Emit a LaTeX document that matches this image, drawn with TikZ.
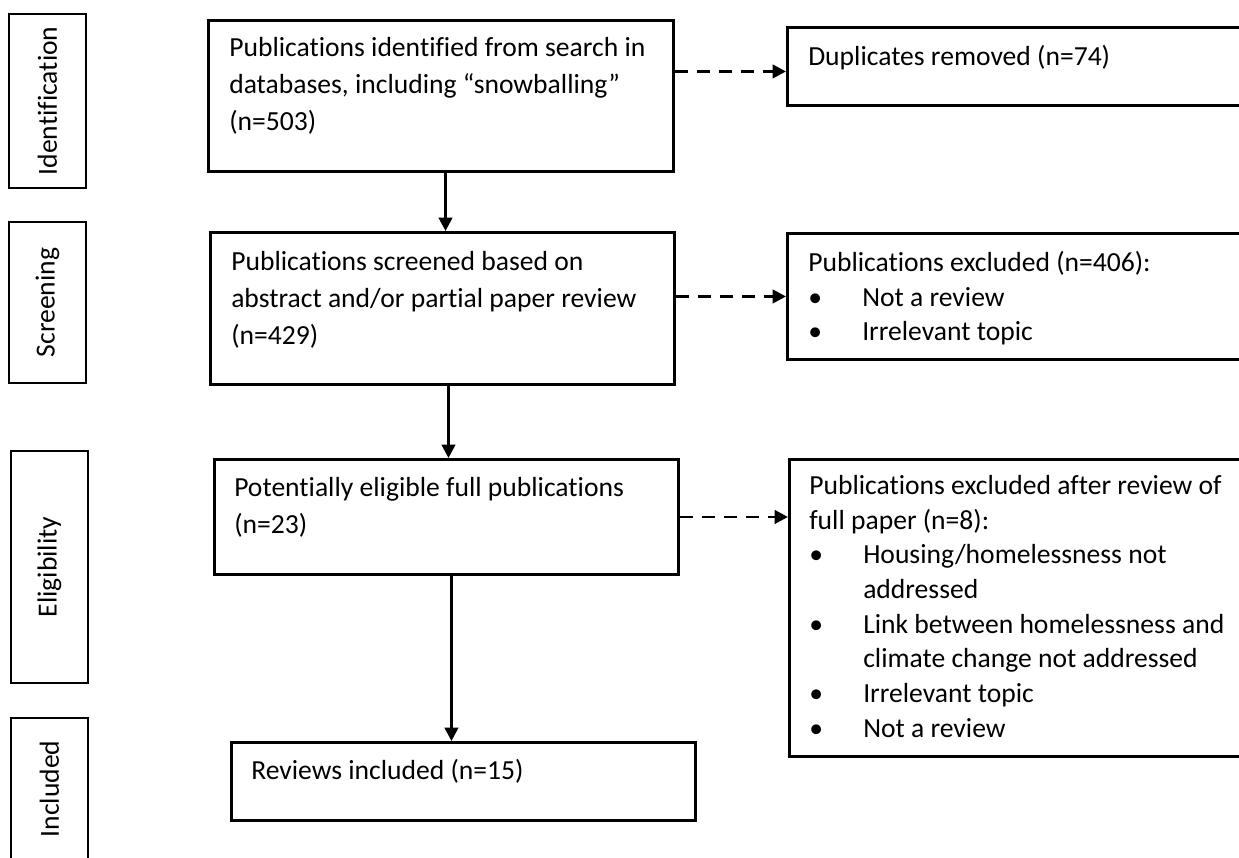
\documentclass[tikz,border=0pt]{standalone}
\usepackage{fontspec}
\setmainfont{Carlito}[Ligatures=NoCommon]
\usetikzlibrary{arrows.meta,calc}
\newcommand\bulitem{\makebox[40.5pt][l]{•}}
\newcommand\bulcont{\hspace*{40.5pt}}
\begin{document}
\begin{tikzpicture}[x=0.75pt,y=-0.75pt,
  box/.style={draw, line width=2.2pt, anchor=north west, inner sep=0pt},
  stagebox/.style={draw, line width=0.8pt, rotate=90, inner sep=0pt, minimum height=57.75pt, font=\fontsize{20.7pt}{22pt}\selectfont},
  maintxt/.style={anchor=north west, inner sep=0pt, align=left, font=\fontsize{20.7pt}{27.75pt}\selectfont},
  sidetxt/.style={anchor=north west, inner sep=0pt, align=left, font=\fontsize{20.7pt}{26pt}\selectfont},
  arr/.style={line width=2.2pt, -{Triangle[length=10pt,width=10pt]}},
  darr/.style={arr, dash pattern=on 9.75pt off 6.75pt}]
\useasboundingbox (0,0) rectangle (1239,857);
\clip (0,0) rectangle (1239,857);

% stage labels
\node[stagebox, minimum width=130.5pt] (s1) at (47.5,101) {Identification};
\node[stagebox, minimum width=120.75pt] (s2) at (47.5,302.5) {Screening};
\node[stagebox, minimum width=174pt] (s3) at (49.5,567) {Eligibility};
\node[stagebox, minimum width=106.5pt] (s4) at (49.5,789) {Included};

% main boxes
\node[box, minimum width=348.75pt, minimum height=113.25pt] (b1) at (207,19) {};
\node[box, minimum width=348pt, minimum height=114pt] (b2) at (209,231) {};
\node[box, minimum width=348pt, minimum height=86.25pt] (b3) at (213,458) {};
\node[box, minimum width=348pt, minimum height=58.5pt] (b4) at (230,741) {};

% side boxes
\node[box, minimum width=360pt, minimum height=58.5pt] (r1) at (786,26) {};
\node[box, minimum width=360pt, minimum height=94.5pt] (r2) at (786,232) {};
\node[box, minimum width=360pt, minimum height=222.75pt] (r3) at (788,458) {};

% texts
\node[maintxt] (t1) at (229,37) {Publications identified from search in\\databases, including “snowballing”\\(n=503)};
\node[maintxt] (t2) at (231,251) {Publications screened based on\\abstract and/or partial paper review\\(n=429)};
\node[maintxt] (t3) at (234,477) {Potentially eligible full publications\\(n=23)};
\node[maintxt] (t4) at (251,759) {Reviews included (n=15)};
\node[sidetxt] (u1) at (808,45) {Duplicates removed (n=74)};
\node[sidetxt] (u2) at (808,251) {Publications excluded (n=406):\\\bulitem Not a review\\\bulitem Irrelevant topic};
\node[sidetxt] (u3) at (809,475) {Publications excluded after review of\\full paper (n=8):\\\bulitem Housing/homelessness not\\\bulcont addressed\\\bulitem Link between homelessness and\\\bulcont climate change not addressed\\\bulitem Irrelevant topic\\\bulitem Not a review};

% connectors
\draw[arr] ([xshift=3.4pt]b1.south) -- ([xshift=3.4pt]b1.south |- b2.north);
\draw[arr] ([xshift=4.5pt]b2.south) -- ([xshift=4.5pt]b2.south |- b3.north);
\draw[arr] ([xshift=3.75pt]b3.south) -- ([xshift=3.75pt]b3.south |- b4.north);
\draw[darr] ([yshift=-3.75pt]r1.west -| b1.east) -- ([yshift=-3.75pt]r1.west);
\draw[darr] (r2.west -| b2.east) -- (r2.west);
\draw[darr] (b3.east) -- (b3.east -| r3.west);
\end{tikzpicture}
\end{document}
